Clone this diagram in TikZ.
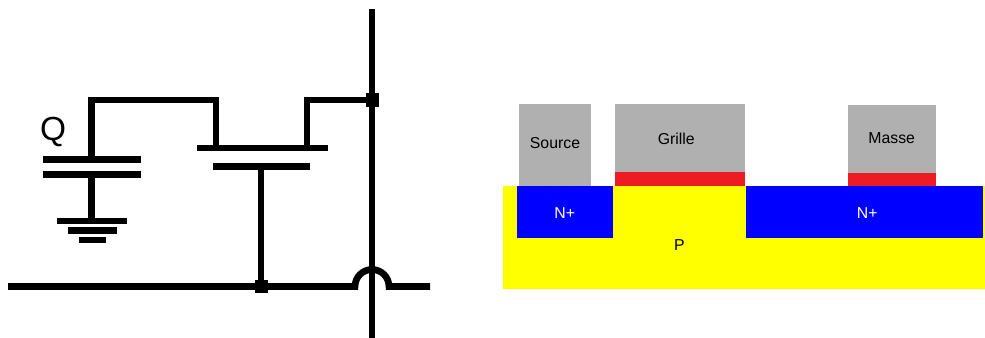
\documentclass[tikz,border=0pt]{standalone}
\usepackage{fontspec}
\setmainfont{Liberation Sans}
\usepackage{tikz}
\usetikzlibrary{positioning, calc}
\definecolor{metalcolor}{RGB}{176,176,176}
\definecolor{oxidecolor}{RGB}{237,28,36}
\definecolor{pcolor}{RGB}{255,255,0}
\definecolor{ncolor}{RGB}{0,0,255}
\tikzset{
    wire/.style={line width=3.8pt},
    junction/.style={fill=black, minimum size=7.4pt, inner sep=0pt},
    label/.style={font=\fontsize{9}{11}\selectfont, inner sep=0pt}
}

\begin{document}
\begin{tikzpicture}[x=0.02cm, y=-0.02cm]
    \useasboundingbox (0,0) rectangle (985,338);

    % Bus vertical et bus horizontal
    \coordinate (bustop) at (372,9);
    \coordinate (busbot) at (372,338);
    \coordinate (wordleft) at (8,286.5);
    \coordinate (hopleft) at (355,286.5);
    \coordinate (hopright) at (389,286.5);
    \coordinate (wordright) at (430,286.5);
    \node[junction] (bitdot) at (372,100) {};
    \node[junction] (worddot) at (261,286.5) {};
    \draw[wire] (bustop) -- (busbot);
    \draw[wire] (wordleft) -- (hopleft) arc[start angle=180, end angle=360, radius=17] -- (wordright);

    % Transistor
    \coordinate (chanleft) at (197,148);
    \coordinate (chanright) at (328,148);
    \coordinate (gateleft) at (213,166.7);
    \coordinate (gateright) at (310,166.7);
    \coordinate (gatemid) at (261,166.7);
    \coordinate (srcfoot) at (216,148);
    \coordinate (drnfoot) at (307,148);
    \draw[wire] (chanleft) -- (chanright);
    \draw[wire] (gateleft) -- (gateright);
    \draw[wire] (gatemid) -- (worddot.center);
    \draw[wire] (drnfoot) |- (bitdot.center);

    % Condensateur et masse
    \coordinate (capleft) at (43,159.7);
    \coordinate (capright) at (141,159.7);
    \coordinate (capleftb) at (43,174.7);
    \coordinate (caprightb) at (141,174.7);
    \coordinate (captop) at (91.7,159.7);
    \coordinate (capbot) at (91.7,174.7);
    \coordinate (gndtop) at (91.7,221);
    \draw[wire] (capleft) -- (capright);
    \draw[wire] (capleftb) -- (caprightb);
    \draw[wire] (capbot) -- (gndtop);
    \draw[wire] (captop) -- (91.7,100) -| (srcfoot);
    \draw[wire] (57,221) -- (127,221);
    \draw[wire] (68,230.7) -- (117,230.7);
    \draw[wire] (79,240) -- (106,240);
    \node[font=\fontsize{19}{21}\selectfont, inner sep=0pt] (qlabel) at (53,132) {Q};

    % Substrat P
    \fill[pcolor] (503,186) rectangle (985,289.3);
    \fill[ncolor] (516.7,186) rectangle (613.3,237.7);
    \fill[ncolor] (745.7,186) rectangle (982.7,237.7);

    % Contacts
    \fill[metalcolor] (519.3,104) rectangle (591.3,186);
    \fill[metalcolor] (614.7,104) rectangle (745.3,172.3);
    \fill[oxidecolor] (614.7,172.3) rectangle (745.3,186);
    \fill[metalcolor] (848,105) rectangle (935.7,173);
    \fill[oxidecolor] (848,173) rectangle (935.7,186);

    % Textes
    \node[label] (source) at (555,142.7) {Source};
    \node[label] (grille) at (676.3,139.3) {Grille};
    \node[label] (masse) at (891.7,138.3) {Masse};
    \node[label, white] (nleft) at (564.7,213) {N+};
    \node[label, white] (nright) at (867.3,213) {N+};
    \node[label] (psub) at (679.3,245.3) {P};
\end{tikzpicture}
\end{document}
